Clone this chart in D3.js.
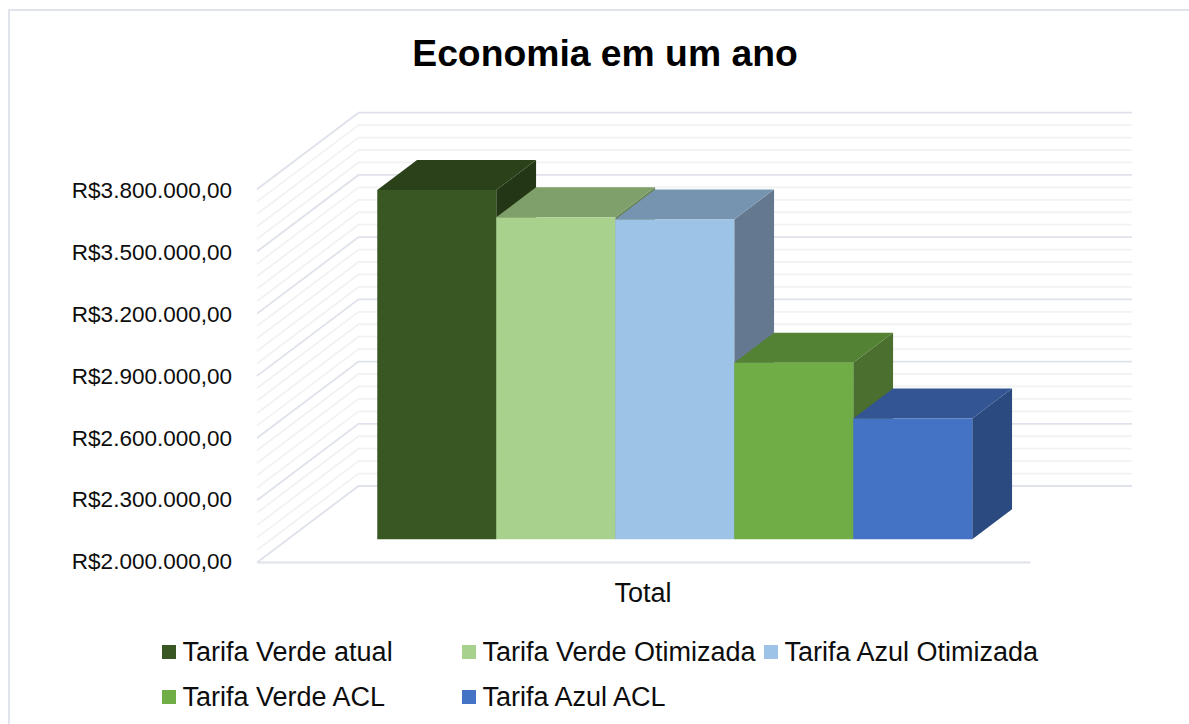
<!DOCTYPE html>
<html>
<head>
<meta charset="utf-8">
<script src="https://cdn.jsdelivr.net/npm/d3@7"></script>
<style>
html, body { margin: 0; padding: 0; background: #fff; }
svg { display: block; font-family: "Liberation Sans", Arial, sans-serif; }
.tick text { font-size: 22.5px; fill: #0d0d0d; }
</style>
</head>
<body>
<svg id="chart" width="1189" height="724"></svg>
<script>
const categories = ["Total"];
const seriesNames = ["Tarifa Verde atual", "Tarifa Verde Otimizada", "Tarifa Azul Otimizada", "Tarifa Verde ACL", "Tarifa Azul ACL"];
const seriesValues = [3684000, 3553000, 3542000, 2852000, 2583000];
const seriesColors = ["#385723", "#a9d18e", "#9dc3e6", "#70ad47", "#4472c4"];
const topColors = ["#2a411a", "#7fa06b", "#7693b0", "#548235", "#335593"];
const sideColors = ["#233716", "#668555", "#64798f", "#4a6f2e", "#2a4a80"];
const majorTicks = [2000000, 2300000, 2600000, 2900000, 3200000, 3500000, 3800000];
const minorStep = 60000;

const svg = d3.select("#chart");

// chart frame
svg.append("rect")
    .attr("x", 9).attr("y", 10)
    .attr("width", 1200).attr("height", 730)
    .attr("fill", "#fff").attr("stroke", "#e0e3ec").attr("stroke-width", 2);

svg.append("text")
    .attr("x", 605).attr("y", 66)
    .attr("text-anchor", "middle")
    .style("font-size", "37.3px").style("font-weight", "bold").attr("fill", "#000")
    .text("Economia em um ano");

// front plane scales, depth is a shear up and to the right
const scaleY = d3.scaleLinear().domain([2000000, 3800000]).range([562.5, 189.2]);
const scaleX = d3.scaleBand().domain(categories).range([257, 1030.5]);
const depthX = d3.scaleLinear().domain([0, 1]).range([0, 101.5]);
const depthY = d3.scaleLinear().domain([0, 1]).range([0, -76.5]);

function project(x, v, z) {
    return [x + depthX(z), scaleY(v) + depthY(z)];
}
const line = d3.line();

// walls
const gridValues = d3.range(2000000, 3800001, minorStep);
const x0 = scaleX.range()[0], x1 = scaleX.range()[1];
svg.append("g").selectAll("path")
    .data(gridValues.slice().sort(function(a, b){ return majorTicks.includes(a) - majorTicks.includes(b); }))
    .enter().append("path")
    .attr("fill", "none")
    .attr("stroke", function(d){ return majorTicks.includes(d) ? "#dfe2ea" : "#f1f2f4"; })
    .attr("stroke-width", 1.8)
    .attr("d", function(d){ return line([project(x0, d, 0), project(x0, d, 1), project(x1, d, 1)]); });

// floor front edge
svg.append("path")
    .attr("fill", "none").attr("stroke", "#dfe2ea").attr("stroke-width", 1.8)
    .attr("d", line([project(x0, 2000000, 0), project(x1, 2000000, 0)]));

// value axis, labels sit a little tighter than the grid
const brl = d3.formatLocale({decimal: ",", thousands: ".", grouping: [3], currency: ["R$", ""]});
const labelY = scaleY.copy().range([561.5, 190.5]);
const axisY = d3.axisLeft(labelY)
    .tickValues(majorTicks)
    .tickSize(0)
    .tickPadding(25)
    .tickFormat(brl.format("$,.2f"));
svg.append("g")
    .attr("transform", "translate(" + x0 + ",0)")
    .call(axisY)
    .attr("font-family", null)
    .call(function(g){ g.select(".domain").remove(); });

// bars
const serieScale = d3.scaleBand().domain(seriesNames)
    .range([scaleX("Total") + 89.5, scaleX("Total") + 684.5]);
const zNear = 0.303, zFar = 0.695;

const bars = svg.append("g").selectAll("g")
    .data(seriesNames)
    .enter().append("g");

bars.append("path")
    .attr("fill", function(d, i){ return sideColors[i]; })
    .attr("d", function(d, i){
        let r = serieScale(d) + serieScale.bandwidth();
        return line([project(r, 2000000, zNear), project(r, 2000000, zFar), project(r, seriesValues[i], zFar), project(r, seriesValues[i], zNear)]) + "Z";
    });
bars.append("path")
    .attr("fill", function(d, i){ return topColors[i]; })
    .attr("d", function(d, i){
        let l = serieScale(d), r = l + serieScale.bandwidth();
        return line([project(l, seriesValues[i], zNear), project(l, seriesValues[i], zFar), project(r, seriesValues[i], zFar), project(r, seriesValues[i], zNear)]) + "Z";
    });
bars.append("path")
    .attr("fill", function(d, i){ return seriesColors[i]; })
    .attr("d", function(d, i){
        let l = serieScale(d), r = l + serieScale.bandwidth();
        return line([project(l, 2000000, zNear), project(r, 2000000, zNear), project(r, seriesValues[i], zNear), project(l, seriesValues[i], zNear)]) + "Z";
    });

// category label
svg.append("text")
    .attr("x", 643).attr("y", 602)
    .attr("text-anchor", "middle")
    .style("font-size", "27px").attr("fill", "#0d0d0d")
    .text(categories[0]);

// legend
const legendCols = [162, 462, 764];
const legendRows = [652, 697];
const legend = svg.append("g").selectAll("g")
    .data(seriesNames)
    .enter().append("g")
    .attr("transform", function(d, i){
        let col = i < 3 ? i : i - 3;
        return "translate(" + legendCols[col] + "," + legendRows[i < 3 ? 0 : 1] + ")";
    });
legend.append("rect")
    .attr("y", -7).attr("width", 14).attr("height", 14)
    .attr("fill", function(d, i){ return seriesColors[i]; });
legend.append("text")
    .attr("x", 20.5).attr("y", 8.5)
    .style("font-size", "27px").attr("fill", "#0d0d0d")
    .text(function(d){ return d; });
</script>
</body>
</html>
